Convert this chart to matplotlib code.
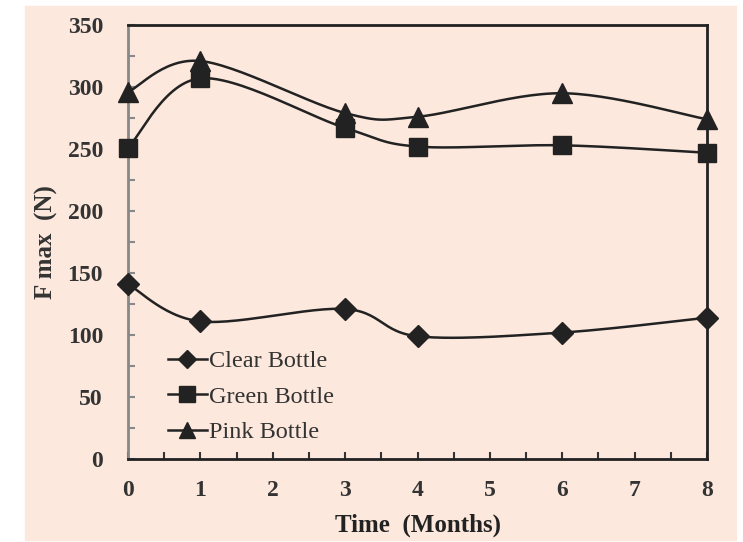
import numpy as np
import matplotlib.pyplot as plt
from matplotlib.patches import Rectangle
from matplotlib.ticker import MultipleLocator

months = [0, 1, 3, 4, 6, 8]
clear_bottle = [141, 111, 121, 99, 102, 114]
green_bottle = [251, 307, 267, 252, 253, 247]
pink_bottle = [296, 321, 279, 276, 295, 274]

plt.rcParams['font.family'] = ['Liberation Serif', 'DejaVu Serif']


def smooth(x, y, sx=72.5, sy=1.243, n=30):
    # Excel-like smoothed line: Bezier through points, built in pixel space
    p = np.column_stack([np.asarray(x, float) * sx, np.asarray(y, float) * sy])
    pts = []
    for i in range(len(p) - 1):
        p0 = p[i - 1] if i > 0 else p[i]
        p3 = p[i + 2] if i + 2 < len(p) else p[i + 1]
        c1 = p[i] + (p[i + 1] - p0) / 6
        c2 = p[i + 1] - (p3 - p[i]) / 6
        t = np.linspace(0, 1, n)[:, None]
        seg = ((1 - t) ** 3 * p[i] + 3 * (1 - t) ** 2 * t * c1
               + 3 * (1 - t) * t ** 2 * c2 + t ** 3 * p[i + 1])
        pts.append(seg if i == 0 else seg[1:])
    pts = np.vstack(pts)
    return pts[:, 0] / sx, pts[:, 1] / sy


fig = plt.figure(figsize=(7.43, 5.42), dpi=100)
bg = '#fce8dc'
fig.patches.append(Rectangle((0.0336, 0.0037), 0.957, 0.985,
                             transform=fig.transFigure, color=bg, zorder=-10))
ax = fig.add_axes([0.1723, 0.1531, 0.7793, 0.8007])
ax.set_facecolor(bg)

series = [(clear_bottle, 'D', 11, 'Clear Bottle'),
          (green_bottle, 's', 13, 'Green Bottle'),
          (pink_bottle, '^', 14, 'Pink Bottle')]
for vals, mk, ms, lab in series:
    sx, sy = smooth(months, vals)
    ax.plot(sx, sy, color='#222222', lw=1.8, zorder=2)
    ax.plot(months, vals, linestyle='none', marker=mk, ms=ms,
            color='#222222', zorder=3, clip_on=False)
    ax.plot([], [], color='#222222', lw=1.8, marker=mk, ms=ms * 0.85, label=lab)

ax.set_xlim(0, 8)
ax.set_ylim(0, 350)
ax.xaxis.set_major_locator(MultipleLocator(1))
ax.xaxis.set_minor_locator(MultipleLocator(0.5))
ax.yaxis.set_major_locator(MultipleLocator(50))
ax.yaxis.set_minor_locator(MultipleLocator(25))
ax.tick_params(which='both', direction='in', length=5, width=1.5, color='#333333')
ax.tick_params(axis='y', which='both', color='#888888')
ax.tick_params(axis='x', which='major', labelsize=17, pad=15)
ax.tick_params(axis='y', which='major', labelsize=17, pad=18)

for lbl in ax.get_xticklabels() + ax.get_yticklabels():
    lbl.set_fontweight('bold')
    lbl.set_color('#333333')

for s in ['top', 'right', 'bottom']:
    ax.spines[s].set_linewidth(2)
    ax.spines[s].set_color('#222222')
ax.spines['left'].set_linewidth(2)
ax.spines['left'].set_color('#888888')

ax.set_xlabel('Time  (Months)', fontsize=18, fontweight='bold', color='#222222', labelpad=9)
ax.set_ylabel('F max  (N)', fontsize=18, fontweight='bold', color='#333333', labelpad=7)

leg = ax.legend(loc='lower left', bbox_to_anchor=(0.052, 0.014), frameon=False,
                fontsize=17.5, handlelength=1.6, handletextpad=0.1, labelspacing=0.55,
                borderaxespad=0.0)
for t in leg.get_texts():
    t.set_color('#333333')

fig.savefig('out.png', dpi=100, facecolor='white')
